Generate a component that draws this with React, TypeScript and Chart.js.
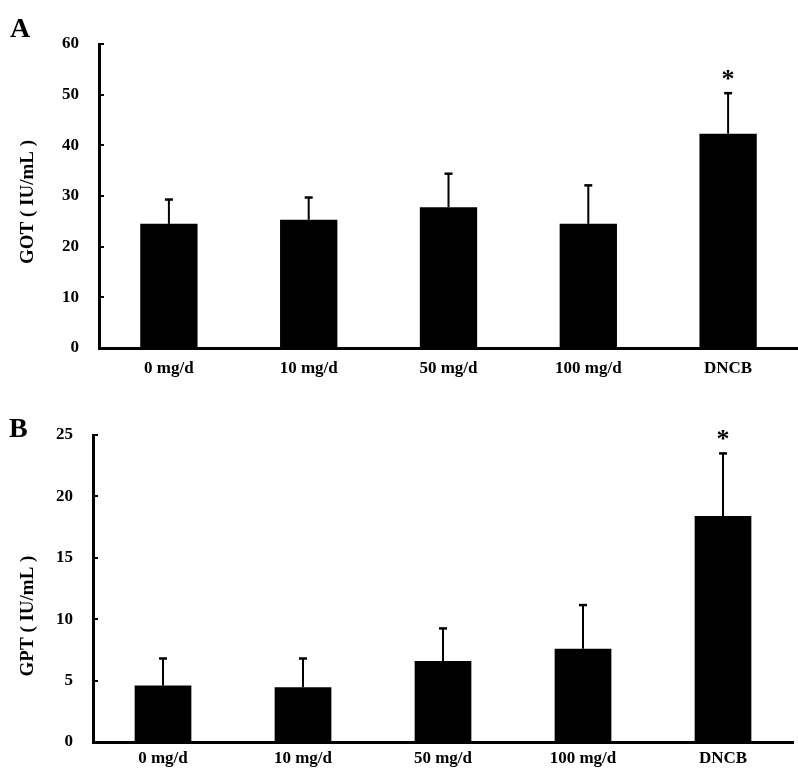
import React, { useEffect, useRef } from "react";
import { Chart, registerables } from "chart.js";

Chart.register(...registerables);

// ---------- data ----------
const categories = ["0 mg/d", "10 mg/d", "50 mg/d", "100 mg/d", "DNCB"];

const gotMeans = [24.5, 25.3, 27.8, 24.5, 42.3];
const gotErrors = [4.8, 4.4, 6.6, 7.6, 8.0];
const gotSignificance = ["", "", "", "", "*"];
const gotTickValues = [0, 10, 20, 30, 40, 50, 60];

const gptMeans = [4.6, 4.45, 6.6, 7.6, 18.4];
const gptErrors = [2.2, 2.35, 2.65, 3.55, 5.1];
const gptSignificance = ["", "", "", "", "*"];
const gptTickValues = [0, 5, 10, 15, 20, 25];

const FONT = "'Liberation Serif', 'Times New Roman', serif";

type PanelProps = {
  top: number;
  height: number;
  means: number[];
  errors: number[];
  significance: string[];
  tickValues: number[];
  yTitle: string;
  yTitleCenter: number;
  padTop: number;
  padRight: number;
  yAxisWidth: number;
  xAxisHeight: number;
  xLabelPadding: number;
  barPct: number;
};

function Panel(p: PanelProps) {
  const ref = useRef<HTMLCanvasElement | null>(null);

  useEffect(() => {
    if (!ref.current) return;

    const errorPlugin = {
      id: "errorBars",
      afterDatasetsDraw(chart: any) {
        const ctx = chart.ctx;
        const meta = chart.getDatasetMeta(0);
        const y = chart.scales.y;
        ctx.save();
        ctx.strokeStyle = "#000";
        ctx.fillStyle = "#000";
        meta.data.forEach((bar: any, i: number) => {
          const x = bar.x;
          const yBar = bar.y;
          const yTop = y.getPixelForValue(p.means[i] + p.errors[i]);
          ctx.lineWidth = 2;
          ctx.beginPath();
          ctx.moveTo(x, yBar);
          ctx.lineTo(x, yTop);
          ctx.stroke();
          ctx.lineWidth = 2.5;
          ctx.beginPath();
          ctx.moveTo(x - 4, yTop);
          ctx.lineTo(x + 4, yTop);
          ctx.stroke();
          const s = p.significance[i];
          if (s) {
            ctx.font = `bold 26px ${FONT}`;
            ctx.textAlign = "center";
            ctx.textBaseline = "alphabetic";
            ctx.fillText(s, x, yTop - 6);
          }
        });
        ctx.restore();
      },
    };

    const titlePlugin = {
      id: "yTitleText",
      afterDraw(chart: any) {
        const ctx = chart.ctx;
        ctx.save();
        ctx.translate(28.5, p.yTitleCenter);
        ctx.rotate(-Math.PI / 2);
        ctx.font = `bold 19px ${FONT}`;
        ctx.fillStyle = "#000";
        ctx.textAlign = "center";
        ctx.textBaseline = "middle";
        ctx.fillText(p.yTitle, 0, 0);
        ctx.restore();
      },
    };

    const minV = p.tickValues[0];
    const maxV = p.tickValues[p.tickValues.length - 1];
    const step = p.tickValues[1] - p.tickValues[0];

    const chart = new Chart(ref.current, {
      type: "bar",
      data: {
        labels: categories,
        datasets: [
          {
            data: p.means,
            backgroundColor: "#000",
            borderWidth: 0,
            barPercentage: p.barPct,
            categoryPercentage: 1,
          },
        ],
      },
      options: {
        responsive: false,
        animation: false,
        layout: { padding: { top: p.padTop, right: p.padRight, left: 0, bottom: 0 } },
        plugins: {
          legend: { display: false },
          tooltip: { enabled: false },
        },
        scales: {
          x: {
            type: "category",
            offset: true,
            grid: { display: true, drawOnChartArea: false, drawTicks: false },
            border: { display: true, color: "#000", width: 3 },
            ticks: {
              color: "#000",
              font: { family: FONT, size: 17, weight: "bold" },
              padding: p.xLabelPadding,
              maxRotation: 0,
              autoSkip: false,
            },
            afterFit: (s: any) => {
              s.height = p.xAxisHeight;
            },
          },
          y: {
            min: minV,
            max: maxV,
            ticks: {
              stepSize: step,
              color: "#000",
              font: { family: FONT, size: 17, weight: "bold" },
              padding: 25,
            },
            grid: {
              display: true,
              drawOnChartArea: false,
              drawTicks: true,
              tickLength: -5,
              color: "#000",
              lineWidth: 2,
            },
            border: { display: true, color: "#000", width: 3 },
            afterFit: (s: any) => {
              s.width = p.yAxisWidth;
            },
          },
        },
      } as any,
      plugins: [errorPlugin, titlePlugin],
    });

    return () => chart.destroy();
  }, []);

  return (
    <canvas
      ref={ref}
      width={798}
      height={p.height}
      style={{ position: "absolute", left: 0, top: p.top, width: 798, height: p.height, display: "block" }}
    />
  );
}

const letterStyle: React.CSSProperties = {
  position: "absolute",
  fontFamily: FONT,
  fontWeight: "bold",
  fontSize: 28,
  lineHeight: 1,
  color: "#000",
  margin: 0,
};

export default function App() {
  return (
    <div style={{ position: "absolute", left: 0, top: 0, width: 798, height: 778, background: "#fff", overflow: "hidden" }}>
      <Panel
        top={0}
        height={389}
        means={gotMeans}
        errors={gotErrors}
        significance={gotSignificance}
        tickValues={gotTickValues}
        yTitle="GOT ( IU/mL )"
        yTitleCenter={202}
        padTop={44}
        padRight={0}
        yAxisWidth={99}
        xAxisHeight={41}
        xLabelPadding={10}
        barPct={0.41}
      />
      <Panel
        top={389}
        height={389}
        means={gptMeans}
        errors={gptErrors}
        significance={gptSignificance}
        tickValues={gptTickValues}
        yTitle="GPT ( IU/mL )"
        yTitleCenter={227}
        padTop={46}
        padRight={5}
        yAxisWidth={93}
        xAxisHeight={36}
        xLabelPadding={6}
        barPct={0.405}
      />
      <div style={{ ...letterStyle, left: 10, top: 14 }}>A</div>
      <div style={{ ...letterStyle, left: 9, top: 414 }}>B</div>
    </div>
  );
}
